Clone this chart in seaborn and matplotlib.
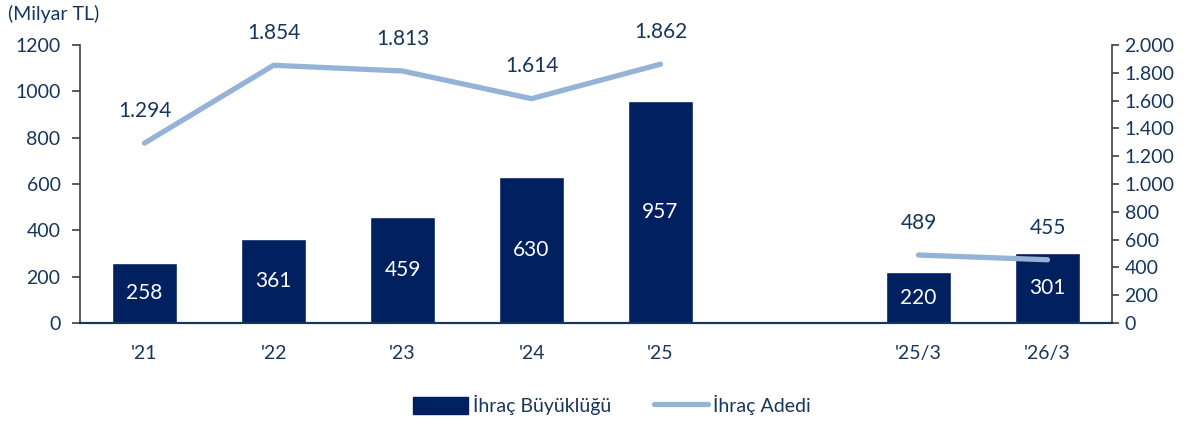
"""Ihrac buyuklugu (bar) ve ihrac adedi (cizgi) grafigi."""
import numpy as np
import pandas as pd
import seaborn as sns
import matplotlib
matplotlib.use('Agg')
import matplotlib.pyplot as plt
from matplotlib.ticker import FuncFormatter, MultipleLocator
from matplotlib.lines import Line2D
from matplotlib.patches import Patch

# Veriler (bos kategori, '25 ile '25/3 arasindaki boslugu temsil eder).
donemler = ["'21", "'22", "'23", "'24", "'25", " ", "'25/3", "'26/3"]
buyukluk = [258, 361, 459, 630, 957, np.nan, 220, 301]
adet = [1294, 1854, 1813, 1614, 1862, np.nan, 489, 455]

bar_renk = '#002060'
cizgi_renk = '#95b3d7'
yazi_renk = '#16365c'

sns.set_style('white')
plt.rcParams['font.family'] = ['Lato', 'DejaVu Sans']

df = pd.DataFrame({'donem': donemler, 'buyukluk': buyukluk, 'adet': adet})

fig = plt.figure(figsize=(12, 4.24), dpi=100)
ax = fig.add_axes([80 / 1200, 1 - 323 / 424, 1032 / 1200, 278 / 424])

sns.barplot(data=df, x='donem', y='buyukluk', order=donemler,
            color=bar_renk, saturation=1, width=0.51, ax=ax)
ax.set_xlim(-0.5, len(donemler) - 0.5)
ax.set_ylim(0, 1200)
ax.yaxis.set_major_locator(MultipleLocator(200))
ax.set_xlabel('')
ax.set_ylabel('')

# Bar degerleri (beyaz, ortada).
for i, v in enumerate(df['buyukluk']):
    if not np.isnan(v):
        ax.text(i, v / 2, '{0:.0f}'.format(v), ha='center', va='center',
                color='white', fontsize=15)

# Ikinci eksen: ihrac adedi.
ax2 = ax.twinx()
pos = np.arange(len(donemler))
ax2.plot(pos, df['adet'], color=cizgi_renk, lw=3.8,
         solid_capstyle='round', solid_joinstyle='round')
ax2.set_ylim(0, 2000)
ax2.yaxis.set_major_locator(MultipleLocator(200))
ax2.yaxis.set_major_formatter(
    FuncFormatter(lambda v, p: '{0:,.0f}'.format(v).replace(',', '.')))

for i, v in enumerate(df['adet']):
    if not np.isnan(v):
        ax2.annotate('{0:,.0f}'.format(v).replace(',', '.'), (i, v),
                     xytext=(0, 16), textcoords='offset points',
                     ha='center', va='bottom', color=yazi_renk, fontsize=15)

# Eksen stilleri.
for a in (ax, ax2):
    a.spines['top'].set_visible(False)
    a.spines['left'].set_color('#404040')
    a.spines['right'].set_color('#404040')
    a.spines['bottom'].set_color(yazi_renk)
    a.spines['left'].set_linewidth(1.2)
    a.spines['right'].set_linewidth(1.2)
    a.spines['bottom'].set_linewidth(1.5)
    a.grid(False)
ax.spines['right'].set_visible(False)
ax2.spines['left'].set_visible(False)

ax.tick_params(axis='y', direction='out', length=6, width=1.2,
               color='#404040', labelcolor=yazi_renk, labelsize=14, pad=8)
ax.tick_params(axis='x', length=0, labelcolor=yazi_renk, labelsize=14,
               pad=16)
ax2.tick_params(axis='y', direction='out', length=5, width=1.2,
                color='#404040', labelcolor=yazi_renk, labelsize=14, pad=4)

fig.text(8 / 1200, 1 - 14 / 424, '(Milyar TL)', ha='left', va='center',
         color=yazi_renk, fontsize=14)

handles = [Patch(facecolor=bar_renk, edgecolor=bar_renk),
           Line2D([0], [0], color=cizgi_renk, lw=3.8, solid_capstyle='round')]
fig.legend(handles, ['İhraç Büyüklüğü', 'İhraç Adedi'], loc='center',
           bbox_to_anchor=(0.51, 1 - 405 / 424), ncol=2, frameon=False,
           fontsize=14, labelcolor=yazi_renk, handlelength=2.8,
           handleheight=1.0, handletextpad=0.25, columnspacing=2.2)

fig.savefig('out.png', dpi=100)
